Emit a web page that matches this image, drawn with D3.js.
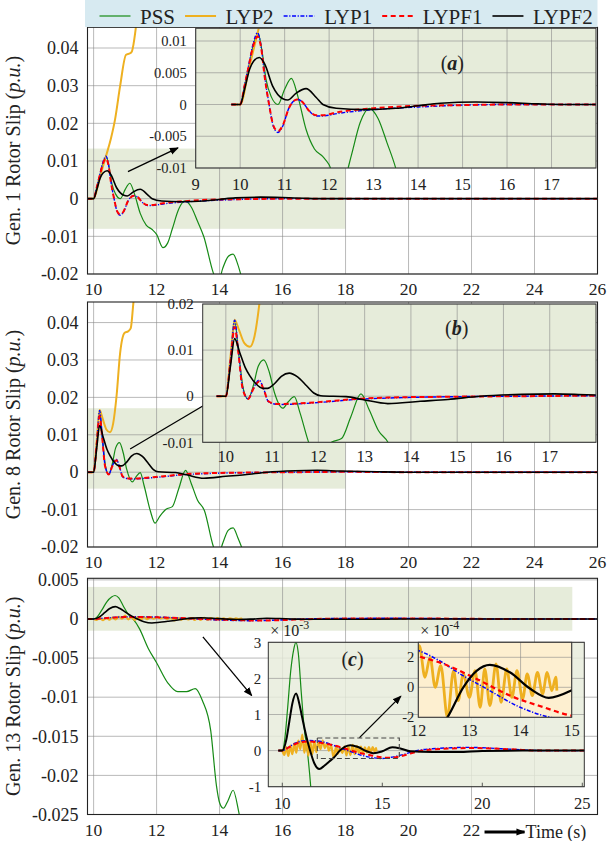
<!DOCTYPE html>
<html>
<head>
<meta charset="utf-8">
<script src="https://cdn.jsdelivr.net/npm/d3@7"></script>
<style>
  body { margin: 0; background: #fff; }
  svg { display: block; }
  text { font-family: "Liberation Serif", "Times New Roman", "DejaVu Serif", serif; fill: #222; }
</style>
</head>
<body>
<svg id="fig" width="612" height="841" font-family="Liberation Serif, Times New Roman, serif"></svg>
<script>
// ---- data: [time (s), rotor slip (p.u.)] ----
var gen1PSS = [[9.8,0],[10,0],[10.1,0.003],[10.2,0.0062],[10.3,0.0095],[10.4,0.0112],[10.5,0.008],[10.58,0.004],[10.7,0.0012],[10.85,0],[11,0.0024],[11.15,0.0041],[11.3,0.0012],[11.48,-0.0039],[11.67,-0.007],[11.86,-0.0082],[12,-0.0095],[12.2,-0.013],[12.35,-0.0118],[12.5,-0.008],[12.7,-0.0028],[12.9,-0.0006],[13.1,-0.0022],[13.3,-0.006],[13.5,-0.0101],[13.8,-0.0197],[13.95,-0.0225],[14.1,-0.0185],[14.28,-0.0153],[14.43,-0.0147],[14.58,-0.0175],[14.75,-0.0225],[15,-0.03]];
var gen1LYP2 = [[9.8,0],[10,0],[10.2,0.0058],[10.4,0.0115],[10.55,0.016],[10.68,0.021],[10.84,0.0298],[11.03,0.0382],[11.16,0.0386],[11.22,0.0392],[11.32,0.044],[11.4,0.05]];
var gen1LYP1 = [[9.8,0],[10,0],[10.1,0.003],[10.2,0.0065],[10.3,0.0098],[10.39,0.0113],[10.47,0.0092],[10.55,0.0045],[10.65,0],[10.75,-0.0035],[10.85,-0.0044],[10.95,-0.0035],[11.1,-0.0005],[11.28,0.0008],[11.4,0.0004],[11.55,-0.0010],[11.71,-0.0018],[11.85,-0.0018],[12.2,-0.0014],[13,-0.0008],[14,-0.0004],[15,-0.0001],[16,0],[26,0]];
var gen1LYPF1 = [[9.8,0],[10,0],[10.1,0.003],[10.2,0.0063],[10.3,0.0094],[10.39,0.0107],[10.47,0.009],[10.55,0.0044],[10.65,0],[10.75,-0.0034],[10.85,-0.0042],[10.95,-0.0034],[11.1,-0.0005],[11.28,0.0008],[11.4,0.0004],[11.55,-0.0010],[11.71,-0.0017],[11.85,-0.0017],[12.2,-0.0012],[13,-0.0006],[14,-0.0002],[15,-0.0001],[16,0],[26,0]];
var gen1LYPF2 = [[9.8,0],[10,0],[10.1,0.0024],[10.21,0.0055],[10.3,0.0068],[10.43,0.0074],[10.55,0.0064],[10.73,0.0029],[10.96,0.0009],[11.07,0.0007],[11.26,0.0018],[11.48,0.0025],[11.71,0.0011],[11.86,0],[12.16,-0.0006],[12.8,-0.0008],[13.5,-0.0006],[14,-0.0002],[14.5,0.0002],[15.3,0.0004],[16,0.0003],[16.7,0.0001],[17.3,0],[26,0]];

var gen8PSS = [[9.8,0],[10,0],[10.1,0.0075],[10.19,0.0162],[10.28,0.009],[10.38,0.0015],[10.48,-0.0006],[10.6,0.0025],[10.7,0.0065],[10.82,0.0079],[10.94,0.0052],[11.05,0.0008],[11.23,-0.0026],[11.35,-0.0012],[11.48,-0.0001],[11.6,-0.0035],[11.8,-0.0103],[11.95,-0.0136],[12.1,-0.0118],[12.3,-0.0099],[12.5,-0.0092],[12.7,-0.0045],[12.92,0.0005],[13.1,-0.003],[13.3,-0.0075],[13.52,-0.0103],[13.8,-0.0198],[13.95,-0.0225],[14.1,-0.019],[14.28,-0.0155],[14.43,-0.0149],[14.58,-0.0175],[14.72,-0.0205],[15,-0.028]];
var gen8LYP2 = [[9.8,0],[10,0],[10.1,0.0085],[10.19,0.0166],[10.28,0.0145],[10.4,0.0115],[10.52,0.0107],[10.62,0.013],[10.73,0.0205],[10.84,0.0317],[10.98,0.0372],[11.1,0.0377],[11.18,0.0385],[11.26,0.045],[11.32,0.05]];
var gen8LYP1 = [[9.8,0],[10,0],[10.1,0.008],[10.19,0.0165],[10.27,0.01],[10.36,0.002],[10.48,-0.0006],[10.6,0.0018],[10.72,0.0035],[10.82,0.0015],[10.92,-0.0012],[11.05,-0.0017],[11.15,-0.0018],[12.1,-0.0013],[12.8,-0.0007],[13.5,-0.0004],[15,-0.0001],[16.4,0],[18,0.0001],[20,0],[26,0]];
var gen8LYPF1 = [[9.8,0],[10,0],[10.1,0.0075],[10.19,0.015],[10.27,0.0095],[10.36,0.0018],[10.48,-0.0006],[10.6,0.0017],[10.72,0.0032],[10.82,0.0014],[10.92,-0.0011],[11.05,-0.0016],[11.15,-0.0017],[12.1,-0.0012],[12.8,-0.0006],[13.5,-0.0003],[15,-0.0001],[16.4,0],[18,0.0001],[20,0],[26,0]];
var gen8LYPF2 = [[9.8,0],[10,0],[10.1,0.0065],[10.19,0.0125],[10.3,0.0095],[10.42,0.0062],[10.52,0.0044],[10.65,0.0027],[10.8,0.0017],[10.9,0.0017],[11.05,0.0027],[11.2,0.0043],[11.37,0.005],[11.55,0.0042],[11.75,0.0022],[11.9,0.0007],[12.05,0.0001],[12.6,-0.0001],[12.95,-0.0007],[13.5,-0.0016],[14.2,-0.0011],[14.8,-0.0007],[15.5,0],[16.4,0.0004],[17.1,0.0005],[17.8,0.0003],[19,0.0001],[20,0],[26,0]];

var gen13PSS = [[9.8,0],[10,0],[10.12,0.0003],[10.27,0.0012],[10.42,0.0022],[10.57,0.0028],[10.68,0.003],[10.8,0.0027],[10.95,0.0016],[11.1,0.0006],[11.25,0],[11.45,-0.0012],[11.74,-0.0038],[12,-0.0056],[12.36,-0.0082],[12.67,-0.0093],[12.95,-0.0093],[13.23,-0.0089],[13.45,-0.0104],[13.72,-0.0143],[13.9,-0.0213],[14,-0.0235],[14.12,-0.0242],[14.27,-0.0232],[14.43,-0.0219],[14.6,-0.0245],[14.86,-0.031]];
// LYP2 of gen. 13 in units of 1e-4 p.u.
var gen13LYP2e4 = [[10,0],[10.1,-1.2],[10.2,1.0],[10.3,-1.5],[10.4,1.4],[10.5,-1.0],[10.6,2.0],[10.7,-0.6],[10.8,2.8],[10.9,0.4],[11,4.4],[11.1,-0.6],[11.2,2.8],[11.3,-1.4],[11.4,2.4],[11.5,-1.0],[11.6,2.6],[11.7,-0.4],[11.8,2.4],[11.91,0.4],[12.02,2.78],[12.13,0.67],[12.23,2.0],[12.33,0],[12.44,1.44],[12.57,-2.0],[12.69,1.11],[12.78,-0.89],[12.88,0.89],[13,-0.67],[13.11,1.11],[13.21,-1.33],[13.3,1.22],[13.4,-1.22],[13.52,1.56],[13.62,-1.0],[13.73,1.22],[13.83,-0.67],[13.93,1.11],[14.04,-0.78],[14.13,0.89],[14.23,-0.56],[14.33,1.0],[14.43,-0.44],[14.52,1.0],[14.61,-0.22],[14.69,0.67],[14.71,-0.22]];
var gen13LYP1 = [[9.8,0],[10,0],[10.3,0.00009],[10.6,0.00019],[11,0.00027],[11.3,0.00028],[11.7,0.00027],[12,0.000245],[12.4,0.00018],[12.82,0.000089],[13.34,-0.000011],[13.99,-0.000133],[14.58,-0.0002],[14.95,-0.00022],[15.5,-0.00018],[16.1,-0.0001],[16.7,0],[17.5,0.00005],[18.5,0.00008],[19.2,0.00009],[20,0.00008],[21,0.00005],[22,0.00002],[23,0],[26,0]];
var gen13LYPF1 = [[9.8,0],[10,0],[10.3,0.00008],[10.6,0.00017],[11,0.00024],[11.3,0.00025],[11.7,0.000235],[12,0.000207],[12.49,0.000156],[13.14,0.000056],[13.79,-0.000055],[14.45,-0.000133],[15,-0.000189],[15.4,-0.0002],[15.9,-0.00016],[16.4,-0.00008],[17,0],[18,0.00005],[19.5,0.00007],[20.5,0.00006],[22,0.00002],[23,0],[26,0]];
var gen13LYPF2 = [[9.8,0],[10,0],[10.2,0.0003],[10.35,0.0008],[10.5,0.0013],[10.69,0.00158],[10.85,0.0013],[11,0.0009],[11.2,0.0004],[11.39,0],[11.6,-0.00035],[11.85,-0.00051],[12.1,-0.00042],[12.35,-0.0003],[12.57,-0.0002],[12.88,0],[13.14,0.00011],[13.4,0.00015],[13.79,0.0001],[14.19,-0.00001],[14.55,-0.00007],[15,-0.00002],[15.5,0.00009],[15.9,0.00006],[16.4,-0.00002],[17.5,-0.00004],[18.8,-0.00004],[20,-0.00001],[22,0],[26,0]];

// ---- ticks ----
var seriesNames = ["PSS", "LYP2", "LYP1", "LYPF1", "LYPF2"];
var mainXTicks = [10, 12, 14, 16, 18, 20, 22, 24, 26];
var gen13XLabels = [10, 12, 14, 16, 18, 20, 22];
var gen18YTicks = [0.04, 0.03, 0.02, 0.01, 0, -0.01, -0.02];
var gen13YTicks = [0.005, 0, -0.005, -0.01, -0.015, -0.02, -0.025];
var insetAXTicks = [9, 10, 11, 12, 13, 14, 15, 16, 17];
var insetAYTicks = [0.01, 0.005, 0, -0.005, -0.01];
var insetBXTicks = [10, 11, 12, 13, 14, 15, 16, 17];
var insetBYTicks = [0.02, 0.01, 0, -0.01];
var insetCXTicks = [10, 15, 20, 25];
var insetCYTicks = [3, 2, 1, 0, -1];      // x 1e-3
var insetDXTicks = [12, 13, 14, 15];
var insetDYTicks = [2, 0, -2];            // x 1e-4

var gen13LYP2 = gen13LYP2e4.map(d => [d[0], d[1] * 1e-4]);

var gen1 = {PSS: gen1PSS, LYP2: gen1LYP2, LYP1: gen1LYP1, LYPF1: gen1LYPF1, LYPF2: gen1LYPF2};
var gen8 = {PSS: gen8PSS, LYP2: gen8LYP2, LYP1: gen8LYP1, LYPF1: gen8LYPF1, LYPF2: gen8LYPF2};
var gen13 = {PSS: gen13PSS, LYP2: gen13LYP2, LYP1: gen13LYP1, LYPF1: gen13LYPF1, LYPF2: gen13LYPF2};

var styles = {
    PSS:   {color: "#168a16", width: 1.2, dash: null},
    LYP2:  {color: "#eeb020", width: 2.0, dash: null},
    LYP1:  {color: "#0000ff", width: 1.4, dash: "4,1.6,1.2,1.6"},
    LYPF1: {color: "#ff0000", width: 2.0, dash: "5,3.5"},
    LYPF2: {color: "#000000", width: 1.6, dash: null}
};
var drawOrder = ["PSS", "LYP2", "LYP1", "LYPF1", "LYPF2"];

var shadeColor = "#e6ecda";
var gridColor = "#8a8a8a";

var svg = d3.select("#fig");
var defs = svg.append("defs");
var clipCount = 0;

defs.append("marker")
    .attr("id", "head")
    .attr("viewBox", "0 0 10 10")
    .attr("refX", 9).attr("refY", 5)
    .attr("markerWidth", 9).attr("markerHeight", 9)
    .attr("markerUnits", "userSpaceOnUse")
    .attr("orient", "auto")
    .append("path").attr("d", "M0,1 L10,5 L0,9 Z").attr("fill", "#000");

function addClip(b) {
    var id = "clip" + (clipCount++);
    defs.append("clipPath").attr("id", id)
        .append("rect")
        .attr("x", b.left).attr("y", b.top)
        .attr("width", b.right - b.left).attr("height", b.bottom - b.top);
    return id;
}

function drawCurves(g, series, x, y, clipId, widths) {
    var line = d3.line()
        .x(d => x(d[0]))
        .y(d => y(d[1]))
        .curve(d3.curveMonotoneX);
    var cg = g.append("g").attr("clip-path", "url(#" + clipId + ")");
    drawOrder.forEach(function(k) {
        var s = styles[k];
        var w = (widths && widths[k]) || s.width;
        cg.append("path")
            .datum(series[k])
            .attr("d", line)
            .attr("fill", "none")
            .attr("stroke", s.color)
            .attr("stroke-width", w)
            .attr("stroke-linejoin", "round")
            .attr("stroke-dasharray", s.dash);
    });
}

function arrow(g, x1, y1, x2, y2, w) {
    g.append("line")
        .attr("x1", x1).attr("y1", y1).attr("x2", x2).attr("y2", y2)
        .attr("stroke", "#000").attr("stroke-width", w || 1.3)
        .attr("marker-end", "url(#head)");
}

// ---- main panels ----
var xLim = [9.806, 26];

function mainPanel(p) {
    var x = d3.scaleLinear().domain(xLim).range([p.left, p.right]);
    var y = d3.scaleLinear().domain(p.yLim).range([p.bottom, p.top]);
    var g = svg.append("g");

    g.append("rect")
        .attr("x", x(p.shade[0])).attr("y", y(p.shade[3]))
        .attr("width", x(p.shade[1]) - x(p.shade[0]))
        .attr("height", y(p.shade[2]) - y(p.shade[3]))
        .attr("fill", shadeColor);

    g.selectAll(".gx").data(mainXTicks).join("line")
        .attr("x1", d => x(d)).attr("x2", d => x(d))
        .attr("y1", p.top).attr("y2", p.bottom)
        .attr("stroke", gridColor).attr("stroke-width", 0.6);
    g.selectAll(".gy").data(p.yTicks).join("line")
        .attr("x1", p.left).attr("x2", p.right)
        .attr("y1", d => y(d)).attr("y2", d => y(d))
        .attr("stroke", gridColor).attr("stroke-width", 0.6);

    drawCurves(g, p.series, x, y, addClip(p));

    g.append("rect")
        .attr("x", p.left).attr("y", p.top)
        .attr("width", p.right - p.left).attr("height", p.bottom - p.top)
        .attr("fill", "none").attr("stroke", "#222").attr("stroke-width", 1.1);

    g.selectAll(".xl").data(p.xLabels).join("text")
        .attr("x", d => x(d)).attr("y", p.bottom + 21)
        .attr("text-anchor", "middle").attr("font-size", 17.5)
        .text(d => d);
    g.selectAll(".yl").data(p.yTicks).join("text")
        .attr("x", p.left - 9).attr("y", d => y(d)).attr("dy", "0.35em")
        .attr("text-anchor", "end").attr("font-size", 18)
        .text(d => String(d));

    var t = g.append("text")
        .attr("transform", "translate(20," + ((p.top + p.bottom) / 2) + ") rotate(-90)")
        .attr("text-anchor", "middle").attr("font-size", 20);
    t.append("tspan").text(p.title + " Rotor Slip (");
    t.append("tspan").attr("font-style", "italic").text("p.u.");
    t.append("tspan").text(")");

    return {x: x, y: y, g: g};
}

function insetPanel(o) {
    var x = d3.scaleLinear().domain(o.xLim).range([o.left, o.right]);
    var y = d3.scaleLinear().domain(o.yLim).range([o.bottom, o.top]);
    var g = svg.append("g");

    g.append("rect")
        .attr("x", o.left).attr("y", o.top)
        .attr("width", o.right - o.left).attr("height", o.bottom - o.top)
        .attr("fill", o.bg).attr("fill-opacity", o.bgOpacity);

    if (o.gridX) {
        g.selectAll(".gx").data(o.xTicks).join("line")
            .attr("x1", d => x(d)).attr("x2", d => x(d))
            .attr("y1", o.top).attr("y2", o.bottom)
            .attr("stroke", gridColor).attr("stroke-width", 0.6);
    } else {
        g.selectAll(".tx").data(o.xTicks).join("line")
            .attr("x1", d => x(d)).attr("x2", d => x(d))
            .attr("y1", o.bottom).attr("y2", o.bottom - 4)
            .attr("stroke", "#333").attr("stroke-width", 0.8);
    }
    g.selectAll(".gy").data(o.yTicks).join("line")
        .attr("x1", o.left).attr("x2", o.right)
        .attr("y1", d => y(d * o.yUnit)).attr("y2", d => y(d * o.yUnit))
        .attr("stroke", gridColor).attr("stroke-width", 0.6);

    drawCurves(g, o.series, x, y, addClip(o), o.widths);

    g.append("rect")
        .attr("x", o.left).attr("y", o.top)
        .attr("width", o.right - o.left).attr("height", o.bottom - o.top)
        .attr("fill", "none").attr("stroke", "#333").attr("stroke-width", 1);

    g.selectAll(".xl").data(o.xTicks).join("text")
        .attr("x", d => x(d)).attr("y", o.bottom + o.xLabelGap)
        .attr("text-anchor", "middle").attr("font-size", o.xFont)
        .text(d => d);
    g.selectAll(".yl").data(o.yTicks).join("text")
        .attr("x", o.left - o.yLabelGap).attr("y", d => y(d * o.yUnit)).attr("dy", "0.35em")
        .attr("text-anchor", "end").attr("font-size", o.yFont)
        .text(d => String(d));

    if (o.exponent) {
        var e = g.append("text")
            .attr("x", o.left + 2).attr("y", o.top - 6)
            .attr("font-size", 16);
        e.append("tspan").text("\u00d7 10");
        e.append("tspan").attr("dy", -7).attr("font-size", 12).text(o.exponent);
    }
    if (o.tag) {
        var tg = g.append("text")
            .attr("x", x(o.tag[0])).attr("y", y(o.tag[1])).attr("dy", "0.35em")
            .attr("text-anchor", "middle").attr("font-size", 20);
        tg.append("tspan").text("(");
        tg.append("tspan").attr("font-weight", "bold").attr("font-style", "italic").text(o.tag[2]);
        tg.append("tspan").text(")");
    }
    return {x: x, y: y, g: g};
}

// panel 1: generator 1
var p1 = mainPanel({
    left: 87.5, right: 597.5, top: 27.3, bottom: 274,
    yLim: [-0.02, 0.0455], yTicks: gen18YTicks, xLabels: mainXTicks,
    shade: [9.806, 18, -0.008, 0.0133], series: gen1, title: "Gen. 1"
});
insetPanel({
    left: 195.7, right: 596, top: 28.3, bottom: 168,
    xLim: [9, 18], yLim: [-0.01, 0.012], yUnit: 1,
    xTicks: insetAXTicks, yTicks: insetAYTicks, gridX: true,
    bg: shadeColor, bgOpacity: 1, series: gen1,
    xFont: 16.5, yFont: 14.5, xLabelGap: 22, yLabelGap: 9,
    tag: [14.77, 0.0066, "a"]
});
arrow(p1.g, p1.x(11.09), p1.y(0.0072), p1.x(12.68), p1.y(0.0135));

// panel 2: generator 8
var p2 = mainPanel({
    left: 87.5, right: 597.5, top: 302, bottom: 547,
    yLim: [-0.02, 0.0455], yTicks: gen18YTicks, xLabels: mainXTicks,
    shade: [9.806, 18, -0.0044, 0.0171], series: gen8, title: "Gen. 8"
});
insetPanel({
    left: 202.7, right: 596, top: 304, bottom: 442.3,
    xLim: [9.5, 18], yLim: [-0.01, 0.02], yUnit: 1,
    xTicks: insetBXTicks, yTicks: insetBYTicks, gridX: true,
    bg: shadeColor, bgOpacity: 1, series: gen8,
    xFont: 16.5, yFont: 15, xLabelGap: 20, yLabelGap: 9,
    tag: [14.99, 0.0147, "b"]
});
arrow(p2.g, p2.x(11.16), p2.y(0.0062), p2.x(13.75), p2.y(0.0191));

// panel 3: generator 13
var p3 = mainPanel({
    left: 87.5, right: 597.5, top: 578.3, bottom: 814.5,
    yLim: [-0.025, 0.0052], yTicks: gen13YTicks, xLabels: gen13XLabels,
    shade: [9.806, 25.2, -0.0015, 0.0041], series: gen13, title: "Gen. 13"
});
arrow(p3.g, p3.x(13.47), p3.y(-0.0023), p3.x(15.02), p3.y(-0.0098));

var c = insetPanel({
    left: 268.3, right: 584.3, top: 642.3, bottom: 786.7,
    xLim: [9.3, 25.1], yLim: [-0.001, 0.003], yUnit: 1e-3,
    xTicks: insetCXTicks, yTicks: insetCYTicks, gridX: false,
    bg: shadeColor, bgOpacity: 0.82, series: gen13,
    widths: {LYP2: 2.2, LYPF2: 2},
    xFont: 16.5, yFont: 15, xLabelGap: 22, yLabelGap: 7,
    exponent: "-3", tag: [13.51, 0.00253, "c"]
});
c.g.append("rect")
    .attr("x", c.x(11.75)).attr("y", c.y(0.00035))
    .attr("width", c.x(15.85) - c.x(11.75)).attr("height", c.y(-0.00022) - c.y(0.00035))
    .attr("fill", "none").attr("stroke", "#444").attr("stroke-width", 1.1)
    .attr("stroke-dasharray", "5,3");
arrow(c.g, c.x(13.86), c.y(0.00036), c.x(15.93), c.y(0.00151));

insetPanel({
    left: 418.3, right: 571.7, top: 642.3, bottom: 717.3,
    xLim: [12, 15], yLim: [-0.0002, 0.0003], yUnit: 1e-4,
    xTicks: insetDXTicks, yTicks: insetDYTicks, gridX: true,
    bg: "#fdefd0", bgOpacity: 1, series: gen13,
    widths: {LYP2: 2.8, LYPF2: 2.2, LYPF1: 2.2, LYP1: 1.5},
    xFont: 16, yFont: 14.5, xLabelGap: 19, yLabelGap: 4,
    exponent: "-4"
});

// time axis label
var tx = p3.x(22);
arrow(p3.g, tx + 13, 832, tx + 53, 832, 3.2);
p3.g.append("text")
    .attr("x", tx + 54).attr("y", 832).attr("dy", "0.35em")
    .attr("font-size", 18).text("Time (s)");

// ---- legend ----
var lg = svg.append("g");
lg.append("rect")
    .attr("x", 85).attr("y", 0).attr("width", 512.5).attr("height", 27)
    .attr("fill", "#d7eaf1");
var cx = 99.5;
seriesNames.forEach(function(k) {
    var s = styles[k];
    lg.append("line")
        .attr("x1", cx).attr("x2", cx + 31).attr("y1", 16).attr("y2", 16)
        .attr("stroke", s.color).attr("stroke-width", s.width)
        .attr("stroke-dasharray", s.dash);
    var t = lg.append("text")
        .attr("x", cx + 40.5).attr("y", 23.5)
        .attr("font-size", 21).text(k);
    cx = cx + 40.5 + t.node().getComputedTextLength() + 10;
});
</script>
</body>
</html>
